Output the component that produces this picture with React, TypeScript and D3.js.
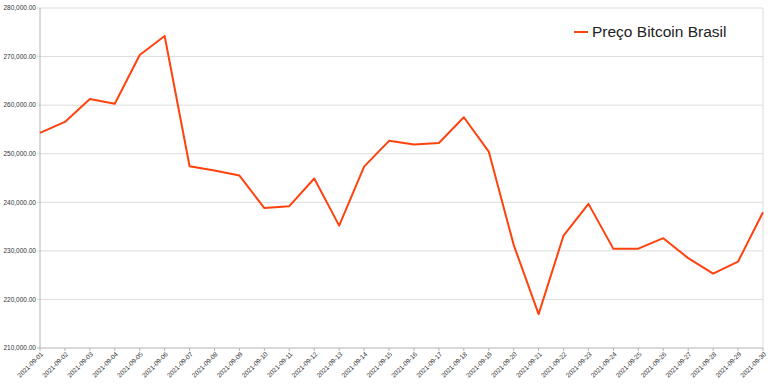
import React, { useEffect, useRef } from "react";
import * as d3 from "d3";

const dates = [
  "2021-09-01", "2021-09-02", "2021-09-03", "2021-09-04", "2021-09-05",
  "2021-09-06", "2021-09-07", "2021-09-08", "2021-09-09", "2021-09-10",
  "2021-09-11", "2021-09-12", "2021-09-13", "2021-09-14", "2021-09-15",
  "2021-09-16", "2021-09-17", "2021-09-18", "2021-09-19", "2021-09-20",
  "2021-09-21", "2021-09-22", "2021-09-23", "2021-09-24", "2021-09-25",
  "2021-09-26", "2021-09-27", "2021-09-28", "2021-09-29", "2021-09-30",
];

const prices = [
  254280, 256540, 261280, 260300, 270330,
  274240, 247430, 246530, 245500, 238800,
  239200, 244900, 235200, 247350, 252650,
  251900, 252220, 257500, 250440, 231230,
  216970, 233150, 239670, 230410, 230450,
  232610, 228500, 225330, 227800, 237960,
];

const yTicks = [210000, 220000, 230000, 240000, 250000, 260000, 270000, 280000];
const seriesName = "Preço Bitcoin Brasil";

export default function App() {
  const ref = useRef<SVGSVGElement>(null);

  useEffect(() => {
    const width = 768;
    const height = 391;
    const margin = { top: 8, right: 5, bottom: 43, left: 40 };

    const svg = d3.select(ref.current);
    svg.selectAll("*").remove();

    const x = d3
      .scalePoint<string>()
      .domain(dates)
      .range([margin.left, width - margin.right]);

    const y = d3
      .scaleLinear()
      .domain([210000, 280000])
      .range([height - margin.bottom, margin.top]);

    const fmt = d3.format(",.2f");
    const font = "'Liberation Sans', Arial, sans-serif";

    // horizontal grid + y labels
    const yg = svg.append("g");
    yg.selectAll("line")
      .data(yTicks)
      .enter()
      .append("line")
      .attr("x1", margin.left - 3)
      .attr("x2", width - margin.right)
      .attr("y1", (d) => y(d))
      .attr("y2", (d) => y(d))
      .attr("stroke", (d) => (d === 210000 ? "#b3b3b3" : "#dcdcdc"))
      .attr("stroke-width", 1);
    yg.selectAll("text")
      .data(yTicks)
      .enter()
      .append("text")
      .attr("x", margin.left - 4)
      .attr("y", (d) => y(d))
      .attr("dy", "0.35em")
      .attr("text-anchor", "end")
      .attr("font-family", font)
      .attr("font-size", "6.5px")
      .attr("fill", "#333")
      .text((d) => fmt(d));

    // axis lines
    svg.append("line")
      .attr("x1", margin.left)
      .attr("x2", margin.left)
      .attr("y1", margin.top)
      .attr("y2", height - margin.bottom)
      .attr("stroke", "#b3b3b3");
    svg.append("line")
      .attr("x1", width - margin.right)
      .attr("x2", width - margin.right)
      .attr("y1", margin.top)
      .attr("y2", height - margin.bottom)
      .attr("stroke", "#dcdcdc");

    // x ticks + labels
    const xg = svg.append("g");
    xg.selectAll("line")
      .data(dates)
      .enter()
      .append("line")
      .attr("x1", (d) => x(d)!)
      .attr("x2", (d) => x(d)!)
      .attr("y1", height - margin.bottom)
      .attr("y2", height - margin.bottom + 3)
      .attr("stroke", "#b3b3b3");
    xg.selectAll("text")
      .data(dates)
      .enter()
      .append("text")
      .attr(
        "transform",
        (d) => `translate(${x(d)! + 2},${height - margin.bottom + 5}) rotate(-45)`
      )
      .attr("text-anchor", "end")
      .attr("dy", "0.35em")
      .attr("font-family", font)
      .attr("font-size", "6.5px")
      .attr("fill", "#333")
      .text((d) => d);

    // series line
    const line = d3
      .line<number>()
      .x((d, i) => x(dates[i])!)
      .y((d) => y(d));
    svg.append("path")
      .datum(prices)
      .attr("d", line)
      .attr("fill", "none")
      .attr("stroke", "#ff420e")
      .attr("stroke-width", 2)
      .attr("stroke-linejoin", "round");

    // legend
    const lg = svg.append("g").attr("transform", "translate(574,32)");
    lg.append("line")
      .attr("x1", 0)
      .attr("x2", 14)
      .attr("y1", 0)
      .attr("y2", 0)
      .attr("stroke", "#ff420e")
      .attr("stroke-width", 2);
    lg.append("text")
      .attr("x", 18)
      .attr("y", 0)
      .attr("dy", "0.35em")
      .attr("font-family", font)
      .attr("font-size", "15.5px")
      .attr("fill", "#222")
      .text(seriesName);
  }, []);

  return (
    <svg
      ref={ref}
      width={768}
      height={391}
      style={{ position: "absolute", left: 0, top: 0, background: "#fff" }}
    />
  );
}
